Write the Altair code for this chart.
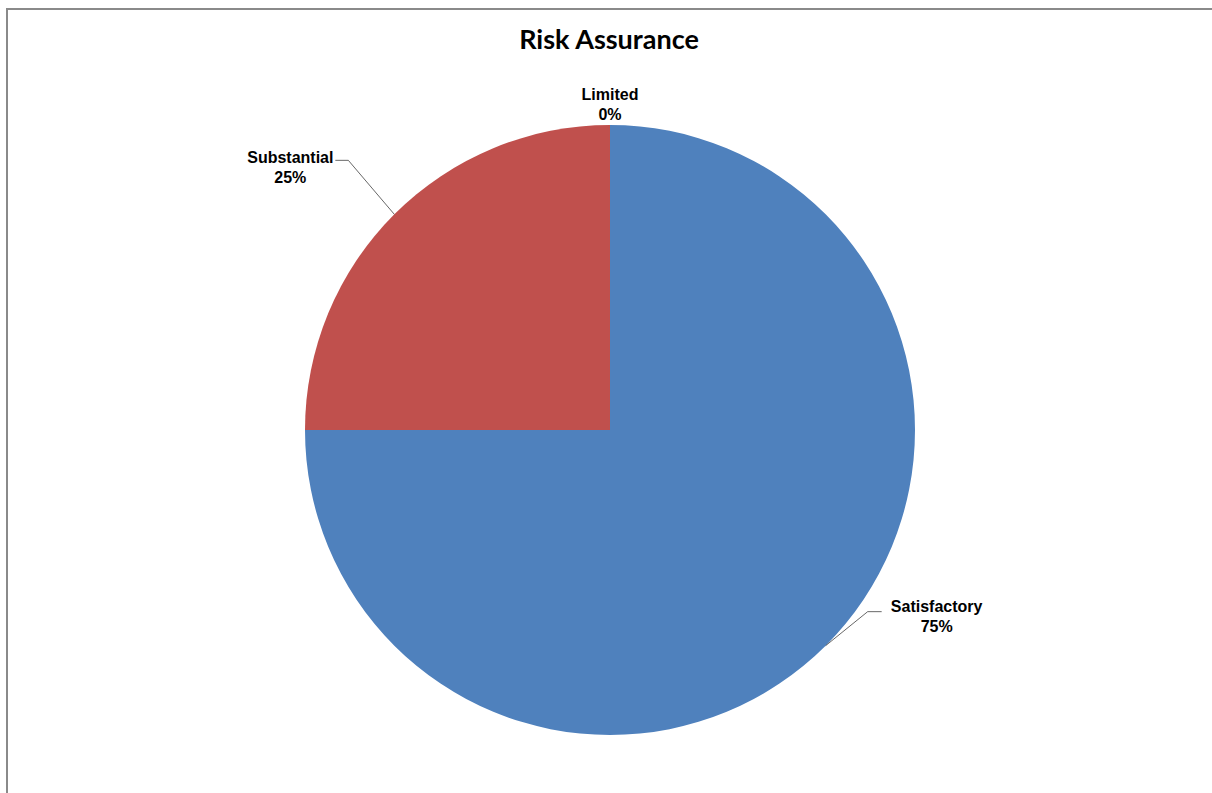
import math
import altair as alt
import pandas as pd

title_text = "Risk Assurance"
categories = ["Satisfactory", "Substantial", "Limited"]
values = [75, 25, 0]
colors = ["#4F81BD", "#C0504D", "#9BBB59"]

# layout / style constants
W, H = 1212, 793
CX, CY, R = 610, 430, 305
elbow_off = {"Satisfactory": (42, -34), "Substantial": (-46, -54)}
run_len = {"Satisfactory": 14, "Substantial": -13}
text_off = {"Satisfactory": (111, -39), "Substantial": (-104, -56), "Limited": (0, -30)}

total = sum(values)
pie = pd.DataFrame({"category": categories, "value": values,
                    "order": list(range(len(categories)))})

# label anchors derived from slice mid-angles
cum = 0.0
leader_rows, label_rows = [], []
for cat, v in zip(categories, values):
    a = 2 * math.pi * (cum + v / 2) / total
    cum += v
    px, py = CX + R * math.sin(a), CY - R * math.cos(a)
    pct = f"{round(100 * v / total)}%"
    tx, ty = text_off[cat]
    label_rows.append({"category": cat, "x": px + tx, "y": py + ty,
                       "text": f"{cat}\n{pct}"})
    if cat in elbow_off:
        ex, ey = px + elbow_off[cat][0], py + elbow_off[cat][1]
        pts = [(px, py), (ex, ey), (ex + run_len[cat], ey)]
        for i, (x, y) in enumerate(pts):
            leader_rows.append({"category": cat, "i": i, "x": x, "y": y})

leaders = pd.DataFrame(leader_rows)
labels = pd.DataFrame(label_rows)

arcs = alt.Chart(pie).mark_arc(radius=R, strokeWidth=0).encode(
    theta=alt.Theta("value:Q", stack=True),
    color=alt.Color("category:N", scale=alt.Scale(domain=categories, range=colors), legend=None),
    order=alt.Order("order:Q"),
    x=alt.value(CX),
    y=alt.value(CY),
)

lines = alt.Chart(leaders).mark_line(color="#404040", strokeWidth=0.8).encode(
    x=alt.X("x:Q", scale=None, axis=None),
    y=alt.Y("y:Q", scale=None, axis=None),
    detail="category:N",
    order="i:Q",
)

texts = alt.Chart(labels).mark_text(
    font="Liberation Sans", fontWeight="bold", fontSize=16, lineBreak="\n",
    lineHeight=20, align="center", baseline="middle", color="#000000",
).encode(
    x=alt.X("x:Q", scale=None, axis=None),
    y=alt.Y("y:Q", scale=None, axis=None),
    text="text:N",
)

title = alt.Chart(pd.DataFrame({"t": [title_text]})).mark_text(
    font="Lato", fontWeight="bold", fontSize=27, align="center", baseline="middle", color="#000000",
).encode(x=alt.value(609), y=alt.value(41), text="t:N")

one = pd.DataFrame({"a": [0]})
frame_left = alt.Chart(one).mark_rule(color="#8a8a8a", strokeWidth=2).encode(
    x=alt.value(7), y=alt.value(8), y2=alt.value(H))
frame_top = alt.Chart(one).mark_rule(color="#8a8a8a", strokeWidth=2).encode(
    x=alt.value(6), x2=alt.value(W), y=alt.value(9))

chart = alt.layer(frame_left, frame_top, arcs, lines, texts, title).properties(
    width=W, height=H, padding=0, autosize="none",
).configure_view(strokeWidth=0, stroke="transparent")

chart.save("out.html", embed_options={"renderer": "svg", "actions": False})
